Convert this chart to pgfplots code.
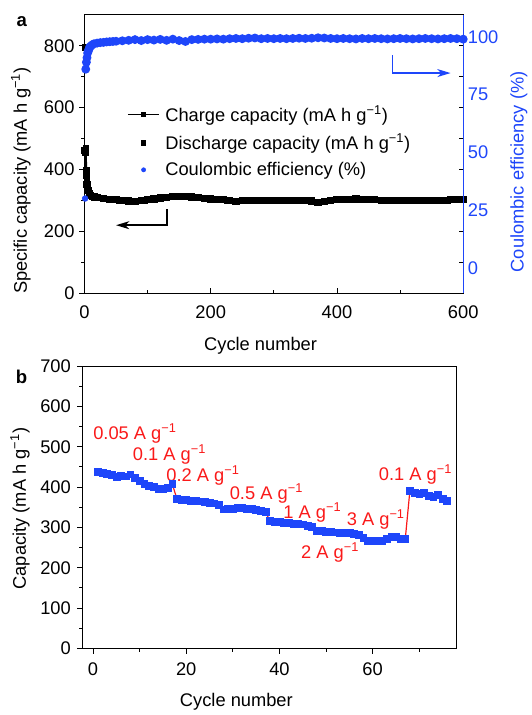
\documentclass[border=0pt]{standalone}
\usepackage{fontspec}
\setmainfont{Liberation Sans}
\usepackage{pgfplots}
\usepackage{pgfplotstable}
\pgfplotsset{compat=1.18}
\usetikzlibrary{arrows.meta}

\definecolor{cblue}{RGB}{30,70,250}
\definecolor{cred}{RGB}{250,25,25}
\newcommand{\gi}{g\textsuperscript{−1}}

\pgfplotsset{
  every axis/.append style={font=\fontsize{13.8}{16}\selectfont,
    /pgf/number format/assume math mode=true},
  wide legend/.style={legend image code/.code={%
    \draw[mark repeat=2,mark phase=2,##1] plot coordinates {(0cm,0cm) (0.42cm,0cm) (0.84cm,0cm)};}},
}

% panel a: charge capacity (cycle, mA h g-1)
\pgfplotstableread{
cyc cap
1 462
2 455
3 380
4 352
5 342
6 333
8 322
10 316
13 313
16 311
20 310
30 307
40 304
50 302
60 300
70 298
80 297
90 299
100 302
110 305
120 308
130 310
140 312
150 313
160 312
170 311
180 309
190 307
200 305
210 304
220 302
230 300
240 297
250 299
260 301
270 301
280 300
290 301
300 301
310 300
320 301
330 300
340 301
350 300
360 298
370 294
380 297
390 301
400 303
410 302
420 303
430 305
440 304
450 302
460 302
470 301
480 300
490 300
500 299
510 299
520 300
530 300
540 299
550 300
560 300
570 301
580 302
590 303
600 304
}\charge

% panel a: discharge capacity
\pgfplotstableread{
cyc cap
1 795
2 470
3 398
4 360
5 346
7 330
15 312
25 309
35 306
45 303
55 301
65 299
75 297
85 298
95 300
105 304
115 307
125 309
135 311
145 313
155 313
165 311
175 310
185 308
195 306
205 305
215 303
225 301
235 298
245 298
255 300
265 301
275 300
285 301
295 301
305 300
315 301
325 300
335 300
345 301
355 299
365 296
375 295
385 299
395 302
405 303
415 302
425 304
435 305
445 303
455 302
465 302
475 300
485 300
495 300
505 299
515 299
525 300
535 300
545 300
555 300
565 300
575 301
585 302
595 303
}\discharge

% panel a: coulombic efficiency (%), first cycle apart
\pgfplotstableread{
cyc ce
1 30
}\cefirst
\pgfplotstableread{
cyc ce
2 86
3 89
4 91
5 93
6 94
7 94.5
8 95.5
10 96
12 96.5
15 97
20 97.3
25 97.5
30 97.6
35 97.8
40 97.9
45 98
50 98.1
60 98.3
70 98.5
80 98.8
90 98.4
100 98.8
110 98.6
120 98.9
130 98.5
140 99
150 98.4
160 98.0
170 98.8
180 98.9
190 99
200 99
210 99.1
220 99
230 99.2
240 99.3
250 99.2
260 99.4
270 99.5
280 99.2
290 99.3
300 99.2
310 99.3
320 99.2
330 99.3
340 99.4
350 99.3
360 99.4
370 99.6
380 99.5
390 99.3
400 99.2
410 99.3
420 99.2
430 99.1
440 99.3
450 99.2
460 99.3
470 99.2
480 99.1
490 99.2
500 99.3
510 99.2
520 99.1
530 99.2
540 99.3
550 99.2
560 99.1
570 99.2
580 99.3
590 99.2
600 99.0
}\ce

% panel b: rate capability
\pgfplotstableread{
cyc cap
1 438
2 436
3 434
4 431
5 426
6 429
7 427
8 432
9 424
10 415
11 408
12 404
13 400
14 397
15 395
16 399
17 408
18 371
19 369
20 368
21 367
22 366
23 365
24 364
25 362
26 360
27 356
28 345
29 346
30 347
31 348
32 348
33 347
34 346
35 344
36 342
37 338
38 316
39 315
40 314
41 312
42 311
43 310
44 309
45 308
46 305
47 302
48 292
49 291
50 290
51 289
52 288
53 287
54 287
55 286
56 285
57 282
58 274
59 268
60 266
61 267
62 268
63 272
64 277
65 276
66 272
67 271
68 392
69 386
70 383
71 385
72 379
73 377
74 380
75 372
76 366
}\rate

\begin{document}
\begin{tikzpicture}
% frame of the whole figure
\path (-63.75pt,221.25pt) rectangle (336pt,-315pt);

% ---------- panel a, left axis ----------
\begin{axis}[
    at={(0pt,0pt)}, anchor=south west,
    scale only axis, width=285.75pt, height=210pt,
    xmin=0, xmax=600, ymin=0, ymax=900,
    xtick={0,200,400,600}, minor xtick={100,300,500},
    ytick={0,200,400,600,800}, minor ytick={100,300,500,700},
    xtick pos=bottom, ytick pos=left,
    xtick align=inside, ytick align=outside,
    major tick length=4pt, minor tick length=2.5pt,
    axis line style={line width=0.8pt},
    tick style={line width=0.7pt, black},
    xticklabel style={yshift=-6pt},
    xlabel={Cycle number},
    xlabel style={at={(axis description cs:0.465,-0.19)}, anchor=center},
    ylabel={Specific capacity (mA h \gi)},
    ylabel style={at={(axis description cs:-0.168,0.405)}, anchor=center},
    legend style={at={(axis description cs:0.112,0.68)}, anchor=north west,
      draw=none, fill=none, inner sep=0pt, row sep=6pt, column sep=3pt,
      nodes={inner sep=1pt}},
    legend cell align=left,
]
    \addplot[black, line width=1.5pt, mark=square*, mark size=2pt, forget plot]
      table[x=cyc, y=cap] {\charge};
    \addplot[only marks, black, mark=square*, mark size=2pt, forget plot]
      table[x=cyc, y=cap] {\discharge};

    \addlegendimage{wide legend, black, line width=0.9pt, mark=square*, mark size=1.6pt}
    \addlegendentry{Charge capacity (mA h \gi)}
    \addlegendimage{wide legend, only marks, black, mark=square*, mark size=1.6pt}
    \addlegendentry{Discharge capacity (mA h \gi)}
    \addlegendimage{wide legend, only marks, cblue, mark=*, mark size=1.6pt}
    \addlegendentry{Coulombic efficiency (\%)}

    % inner ticks on the right spine
    \pgfplotsinvokeforeach{100,200,...,800}{
      \draw[black, line width=0.7pt] (axis cs:600,#1) -- ++(-3.5pt,0);
    }

    % arrows
    \draw[black, line width=1.1pt, -{Stealth[length=10pt, width=6pt, inset=3pt]}]
      (axis cs:130.5,272) -- (axis cs:130.5,220) -- (axis cs:50,220);
    \draw[cblue, line width=1.1pt, -{Stealth[length=10pt, width=6pt, inset=3pt]}]
      (axis cs:488,770) -- (axis cs:488,712) -- (axis cs:580,712);
\end{axis}

% ---------- panel a, right axis ----------
\begin{axis}[
    at={(0pt,0pt)}, anchor=south west,
    scale only axis, width=285.75pt, height=210pt,
    xmin=0, xmax=600, ymin=-11, ymax=109.5,
    axis x line=none, axis y line*=right,
    ytick={0,25,50,75,100},
    major tick length=0pt,
    y axis line style={cblue, line width=0.9pt},
    yticklabel style={cblue},
    ylabel={Coulombic efficiency (\%)},
    ylabel style={cblue, at={(axis description cs:1.147,0.436)}, anchor=center},
]
    \addplot[only marks, cblue, mark=*, mark size=2.2pt]
      table[x=cyc, y=ce] {\cefirst};
    \addplot[cblue, line width=2pt, mark=*, mark size=2.3pt]
      table[x=cyc, y=ce] {\ce};
\end{axis}

\node[font=\fontsize{14}{16}\selectfont\bfseries, anchor=center] at (-47.25pt,204.75pt) {a};

% ---------- panel b ----------
\begin{axis}[
    at={(-1.3pt,-268pt)}, anchor=south west,
    scale only axis, width=282pt, height=213pt,
    xmin=-2.2, xmax=78, ymin=0, ymax=700,
    xtick={0,20,40,60}, minor xtick={10,30,50,70},
    ytick={0,100,...,700}, minor ytick={50,150,...,650},
    tick pos=left, tick align=outside,
    major tick length=4pt, minor tick length=2.5pt,
    axis line style={line width=0.8pt},
    tick style={line width=0.7pt, black},
    xticklabel style={yshift=-3.5pt},
    yticklabel style={xshift=-1.5pt},
    xlabel={Cycle number},
    xlabel style={at={(axis description cs:0.411,-0.19)}, anchor=center},
    ylabel={Capacity (mA h \gi)},
    ylabel style={at={(axis description cs:-0.168,0.495)}, anchor=center},
]
    \addplot[cred, line width=0.9pt] table[x=cyc, y=cap] {\rate};
    \addplot[only marks, cblue, mark=square*, mark size=2.6pt] table[x=cyc, y=cap] {\rate};

    \begin{scope}[every node/.style={cred, anchor=base west, inner sep=0pt}]
      \node at (axis cs:0,519) {0.05 A \gi};
      \node at (axis cs:8.5,466) {0.1 A \gi};
      \node at (axis cs:15.7,415) {0.2 A \gi};
      \node at (axis cs:29.3,369) {0.5 A \gi};
      \node at (axis cs:40.8,322) {1 A \gi};
      \node at (axis cs:54.4,306) {3 A \gi};
      \node at (axis cs:44.6,223) {2 A \gi};
      \node at (axis cs:61.3,416) {0.1 A \gi};
    \end{scope}
\end{axis}

\node[font=\fontsize{14}{16}\selectfont\bfseries, anchor=center] at (-47.5pt,-63pt) {b};
\end{tikzpicture}
\end{document}
